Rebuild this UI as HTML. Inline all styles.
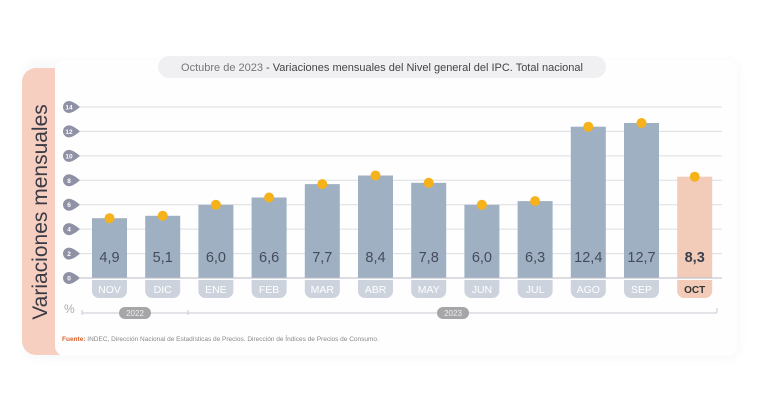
<!DOCTYPE html>
<html><head><meta charset="utf-8"><style>
html,body{margin:0;padding:0;background:#fff;width:768px;height:401px;overflow:hidden}
svg text{font-family:"Liberation Sans",sans-serif}
</style></head><body>
<svg width="768" height="401" viewBox="0 0 768 401" xmlns="http://www.w3.org/2000/svg">
<defs><filter id="sh" x="-5%" y="-5%" width="110%" height="110%"><feGaussianBlur stdDeviation="4"/></filter></defs>
<rect x="0" y="0" width="768" height="401" fill="#fff"/>
<rect x="24" y="60" width="716" height="300" rx="12" fill="#eceef2" filter="url(#sh)" opacity="0.35"/>
<rect x="22" y="68" width="60" height="287" rx="14" fill="#f7cfc0"/>
<rect x="55" y="60" width="682" height="296" rx="10" fill="#fefefe"/>
<text transform="translate(47,212) rotate(-90)" text-anchor="middle" font-size="21" fill="#3a3a44">Variaciones mensuales</text>
<rect x="158" y="56" width="448" height="22" rx="11" fill="#f0f0f3"/>
<text x="382" y="71" text-anchor="middle" font-size="11" fill="#444"><tspan fill="#777">Octubre de 2023</tspan> - Variaciones mensuales del Nivel general del IPC. Total nacional</text>
<g stroke="#dcdde2" stroke-width="1">
<line x1="80" y1="107" x2="722" y2="107"/><line x1="80" y1="131.4" x2="722" y2="131.4"/><line x1="80" y1="155.9" x2="722" y2="155.9"/><line x1="80" y1="180.3" x2="722" y2="180.3"/><line x1="80" y1="204.7" x2="722" y2="204.7"/><line x1="80" y1="229.1" x2="722" y2="229.1"/><line x1="80" y1="253.6" x2="722" y2="253.6"/>
</g>
<g fill="#9fb0c2">
<rect x="92" y="218.2" width="35" height="59.8"/><rect x="145.2" y="215.8" width="35" height="62.2"/><rect x="198.4" y="204.8" width="35" height="73.2"/><rect x="251.6" y="197.5" width="35" height="80.5"/><rect x="304.8" y="184.1" width="35" height="93.9"/><rect x="358" y="175.5" width="35" height="102.5"/><rect x="411.2" y="182.8" width="35" height="95.2"/><rect x="464.4" y="204.8" width="35" height="73.2"/><rect x="517.6" y="201.1" width="35" height="76.9"/><rect x="570.8" y="126.7" width="35" height="151.3"/><rect x="624" y="123" width="35" height="155"/>
</g>
<rect x="677.2" y="176.7" width="35" height="101.3" fill="#f3cbb9"/>
<line x1="80" y1="278" x2="722" y2="278" stroke="#b8bcc6" stroke-width="1"/>
<g fill="#8f91a4">
<path d="M69,101 a6,6 0 1 0 0,12 q4,0 11,-6 q-7,-6 -11,-6z"/>
<path d="M69,125.4 a6,6 0 1 0 0,12 q4,0 11,-6 q-7,-6 -11,-6z"/>
<path d="M69,149.9 a6,6 0 1 0 0,12 q4,0 11,-6 q-7,-6 -11,-6z"/>
<path d="M69,174.3 a6,6 0 1 0 0,12 q4,0 11,-6 q-7,-6 -11,-6z"/>
<path d="M69,198.7 a6,6 0 1 0 0,12 q4,0 11,-6 q-7,-6 -11,-6z"/>
<path d="M69,223.1 a6,6 0 1 0 0,12 q4,0 11,-6 q-7,-6 -11,-6z"/>
<path d="M69,247.6 a6,6 0 1 0 0,12 q4,0 11,-6 q-7,-6 -11,-6z"/>
<path d="M69,272 a6,6 0 1 0 0,12 q4,0 11,-6 q-7,-6 -11,-6z"/>
</g>
<g font-size="6.5" fill="#fff" text-anchor="middle" font-weight="bold">
<text x="69" y="109.5">14</text><text x="69" y="134">12</text><text x="69" y="158.4">10</text><text x="69" y="182.8">8</text><text x="69" y="207.2">6</text><text x="69" y="231.6">4</text><text x="69" y="256.1">2</text><text x="69" y="280.5">0</text>
</g>
<g fill="#ccd3dd">
<path d="M92,280h35v11a7,7 0 0 1 -7,7h-21a7,7 0 0 1 -7,-7z"/>
<path d="M145.2,280h35v11a7,7 0 0 1 -7,7h-21a7,7 0 0 1 -7,-7z"/>
<path d="M198.4,280h35v11a7,7 0 0 1 -7,7h-21a7,7 0 0 1 -7,-7z"/>
<path d="M251.6,280h35v11a7,7 0 0 1 -7,7h-21a7,7 0 0 1 -7,-7z"/>
<path d="M304.8,280h35v11a7,7 0 0 1 -7,7h-21a7,7 0 0 1 -7,-7z"/>
<path d="M358,280h35v11a7,7 0 0 1 -7,7h-21a7,7 0 0 1 -7,-7z"/>
<path d="M411.2,280h35v11a7,7 0 0 1 -7,7h-21a7,7 0 0 1 -7,-7z"/>
<path d="M464.4,280h35v11a7,7 0 0 1 -7,7h-21a7,7 0 0 1 -7,-7z"/>
<path d="M517.6,280h35v11a7,7 0 0 1 -7,7h-21a7,7 0 0 1 -7,-7z"/>
<path d="M570.8,280h35v11a7,7 0 0 1 -7,7h-21a7,7 0 0 1 -7,-7z"/>
<path d="M624,280h35v11a7,7 0 0 1 -7,7h-21a7,7 0 0 1 -7,-7z"/>
</g>
<path d="M677.2,280h35v11a7,7 0 0 1 -7,7h-21a7,7 0 0 1 -7,-7z" fill="#f3cbb9"/>
<g font-size="10.5" fill="#fff" text-anchor="middle">
<text x="109.5" y="293">NOV</text><text x="162.7" y="293">DIC</text><text x="215.9" y="293">ENE</text><text x="269.1" y="293">FEB</text><text x="322.3" y="293">MAR</text><text x="375.5" y="293">ABR</text><text x="428.7" y="293">MAY</text><text x="481.9" y="293">JUN</text><text x="535.1" y="293">JUL</text><text x="588.3" y="293">AGO</text><text x="641.5" y="293">SEP</text>
</g>
<text x="694.7" y="293" font-size="10" fill="#333" text-anchor="middle" font-weight="bold">OCT</text>
<g font-size="14.5" fill="#454b5c" text-anchor="middle">
<text x="109.5" y="262">4,9</text><text x="162.7" y="262">5,1</text><text x="215.9" y="262">6,0</text><text x="269.1" y="262">6,6</text><text x="322.3" y="262">7,7</text><text x="375.5" y="262">8,4</text><text x="428.7" y="262">7,8</text><text x="481.9" y="262">6,0</text><text x="535.1" y="262">6,3</text><text x="588.3" y="262">12,4</text><text x="641.5" y="262">12,7</text>
</g>
<text x="694.7" y="262" font-size="14.5" fill="#3a3f4e" text-anchor="middle" font-weight="bold">8,3</text>
<g fill="#f5b21b">
<circle cx="109.5" cy="218.2" r="5"/><circle cx="162.7" cy="215.8" r="5"/><circle cx="215.9" cy="204.8" r="5"/><circle cx="269.1" cy="197.5" r="5"/><circle cx="322.3" cy="184.1" r="5"/><circle cx="375.5" cy="175.5" r="5"/><circle cx="428.7" cy="182.8" r="5"/><circle cx="481.9" cy="204.8" r="5"/><circle cx="535.1" cy="201.1" r="5"/><circle cx="588.3" cy="126.7" r="5"/><circle cx="641.5" cy="123" r="5"/><circle cx="694.7" cy="176.7" r="5"/>
</g>
<text x="64" y="313" font-size="12" fill="#aaa">%</text>
<line x1="82" y1="313" x2="717" y2="313" stroke="#c8cad0" stroke-width="1"/>
<line x1="82" y1="310" x2="82" y2="315" stroke="#c8cad0"/><line x1="188" y1="310" x2="188" y2="315" stroke="#c8cad0"/><line x1="717" y1="308" x2="717" y2="313" stroke="#c8cad0"/>
<rect x="119" y="307" width="32" height="12" rx="6" fill="#a6a6a8"/>
<text x="135" y="316" font-size="8" fill="#eee" text-anchor="middle">2022</text>
<rect x="437" y="307" width="32" height="12" rx="6" fill="#a6a6a8"/>
<text x="453" y="316" font-size="8" fill="#eee" text-anchor="middle">2023</text>
<text x="62" y="341" font-size="6.5" fill="#888"><tspan fill="#d9622c" font-weight="bold">Fuente:</tspan> INDEC, Dirección Nacional de Estadísticas de Precios. Dirección de Índices de Precios de Consumo.</text>
</svg>
</body></html>
